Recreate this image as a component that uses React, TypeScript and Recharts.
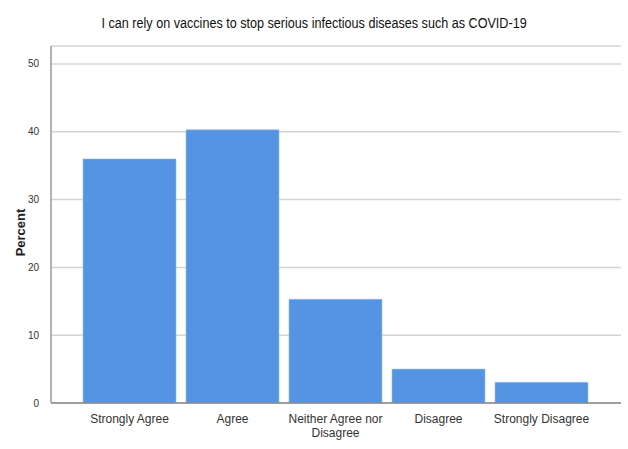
import React from 'react';
import { BarChart, Bar, XAxis, YAxis, CartesianGrid } from 'recharts';

const categories = ['Strongly Agree', 'Agree', 'Neither Agree nor Disagree', 'Disagree', 'Strongly Disagree'];
const percents = [36.0, 40.3, 15.3, 5.0, 3.05];
const yTicks = [0, 10, 20, 30, 40, 50];
const title = 'I can rely on vaccines to stop serious infectious diseases such as COVID-19';
const yLabel = 'Percent';

const data = categories.map((c, i) => ({ name: c, value: percents[i] }));

const FONT = '"Liberation Sans Narrow", "Liberation Sans", Arial, sans-serif';

function splitLines(s: string, max: number): string[] {
  const words = s.split(' ');
  const lines: string[] = [];
  let cur = '';
  for (const w of words) {
    const next = cur ? cur + ' ' + w : w;
    if (next.length > max && cur) {
      lines.push(cur);
      cur = w;
    } else {
      cur = next;
    }
  }
  if (cur) lines.push(cur);
  return lines;
}

const XTick = (props: any) => {
  const { x, y, payload } = props;
  const lines = splitLines(payload.value, 17);
  return (
    <text x={x} y={y + 12} textAnchor="middle" fill="#333" fontSize={12} fontFamily={FONT}>
      {lines.map((l, i) => (
        <tspan key={i} x={x} dy={i === 0 ? 0 : 14}>{l}</tspan>
      ))}
    </text>
  );
};

const YTick = (props: any) => {
  const { x, y, payload } = props;
  return (
    <text x={x} y={y} dy={3.5} textAnchor="end" fill="#333" fontSize={10} fontFamily={FONT}>
      {payload.value}
    </text>
  );
};

export default function App() {
  return (
    <div style={{ position: 'absolute', left: 0, top: 0, width: 628, height: 449, background: '#fff' }}>
      <div
        style={{
          position: 'absolute',
          left: 0,
          top: 15,
          width: 628,
          textAlign: 'center',
          fontFamily: FONT,
          fontSize: 14,
          color: '#111',
          transform: 'scaleX(0.9)',
          transformOrigin: '315px 0',
        }}
      >
        {title}
      </div>
      <BarChart
        width={628}
        height={449}
        data={data}
        margin={{ top: 46, right: 7, bottom: 16, left: 8 }}
        barCategoryGap={5}
      >
        <CartesianGrid vertical={false} stroke="#d4d4d4" strokeWidth={1.5} />
        <XAxis
          dataKey="name"
          interval={0}
          height={30}
          padding={{ left: 27, right: 28 }}
          axisLine={{ stroke: '#888', strokeWidth: 1.5 }}
          tickLine={false}
          tick={<XTick />}
        />
        <YAxis
          width={43}
          domain={[0, 52.65]}
          ticks={yTicks}
          axisLine={{ stroke: '#999', strokeWidth: 1.5 }}
          tickLine={false}
          tickMargin={6}
          tick={<YTick />}
          label={{
            content: (p: any) => {
              const vb = p.viewBox;
              const cx = vb.x + 17;
              const cy = vb.y + vb.height / 2 + 8;
              return (
                <text
                  x={cx}
                  y={cy}
                  transform={`rotate(-90 ${cx} ${cy})`}
                  textAnchor="middle"
                  fontFamily={FONT}
                  fontWeight="bold"
                  fontSize={13}
                  fill="#222"
                >
                  {yLabel}
                </text>
              );
            },
          }}
        />
        <Bar dataKey="value" fill="#5594E2" stroke="#9cc0ee" strokeWidth={0.6} isAnimationActive={false} />
      </BarChart>
    </div>
  );
}
